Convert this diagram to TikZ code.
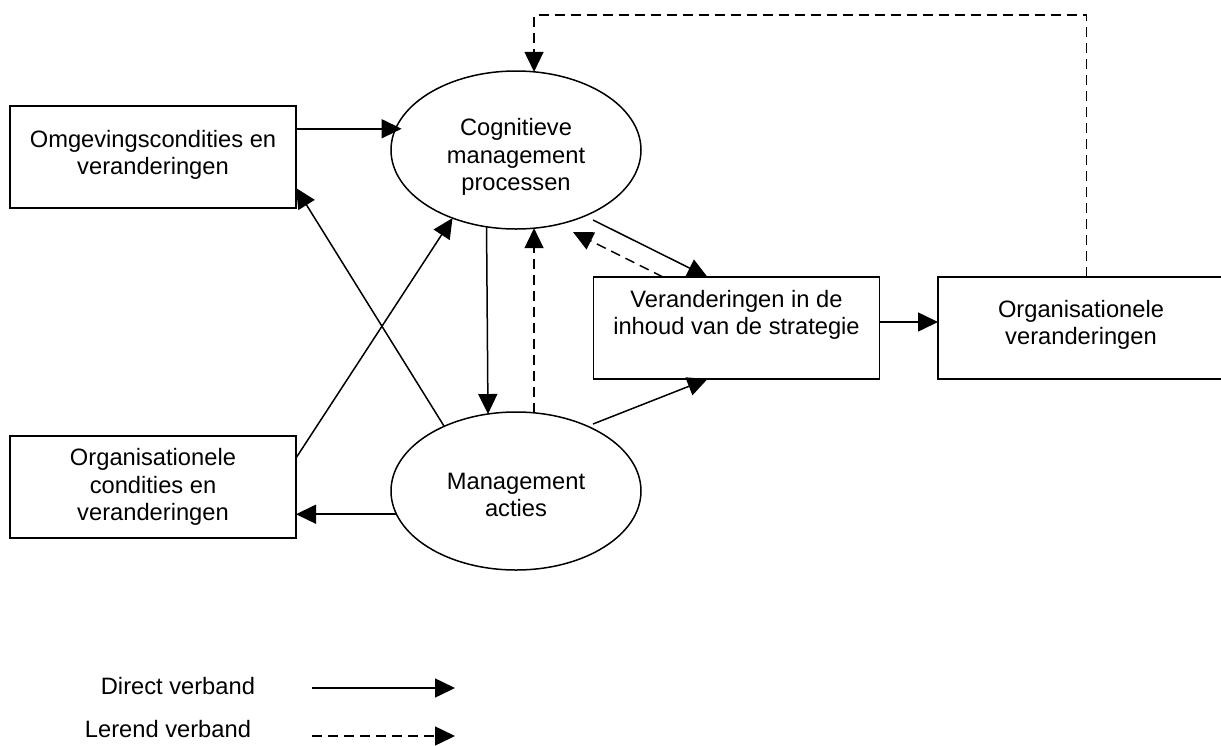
\documentclass[tikz,border=0pt]{standalone}
\usepackage{fontspec}
\setmainfont{Liberation Sans}
\usetikzlibrary{arrows.meta,shapes.geometric,calc}
\begin{document}
\begin{tikzpicture}[x=1pt,y=-1pt,
  every node/.style={inner sep=0pt, outer sep=0pt},
  box/.style={draw, line width=1.5pt, minimum width=286pt, minimum height=102pt},
  oval/.style={draw, ellipse, line width=1.5pt, minimum width=250pt, minimum height=158pt},
  txt/.style={align=center, font=\fontsize{23.7}{27.5}\selectfont},
  direct/.style={line width=1.5pt, -{Triangle[length=20pt,width=19pt]}},
  learn/.style={direct, dash pattern=on 10pt off 6pt}]
\useasboundingbox (0,0) rectangle (1221,745);

% boxes and ovals
\node[box]  (omg)  at (153,157)   {};
\node[box]  (orgc) at (153,487)   {};
\node[box]  (strat) at (736.5,328) {};
\node[box]  (orgv) at (1081,328)  {};
\node[oval] (cog)  at (516,150)   {};
\node[oval] (act)  at (516,491)   {};

% labels
\node[txt] (omgT)   at (153,155)   {Omgevingscondities en\\veranderingen};
\node[txt] (orgcT)  at (153,487)   {Organisationele\\condities en\\veranderingen};
\node[txt] (stratT) at (736.5,315) {Veranderingen in de\\inhoud van de strategie};
\node[txt] (orgvT)  at (1081,325)  {Organisationele\\veranderingen};
\node[txt] (cogT)   at (516,157)   {Cognitieve\\management\\processen};
\node[txt] (actT)   at (516,495)   {Management\\acties};

% direct links
\draw[direct, shorten >=-6pt] (cog.170.1 -| omg.east) -- (cog.170.1);
\draw[direct] (act.191.9) -- (act.191.9 -| orgc.east);
\draw[direct] ($(orgc.north east)+(0,22)$) -- (cog.227.9);
\draw[direct] (act.138.6) -- ($(omg.south east)+(0,-20)$);
\draw[direct] (cog.249.3) -- (act.110.4);
\draw[direct] ($(cog.center)+(77,70)$) -- ([xshift=-29pt]strat.north);
\draw[direct] ($(act.center)+(77,-67)$) -- ([xshift=-29pt]strat.south);
\draw[direct] ([yshift=6pt]strat.east) -- ([yshift=6pt]strat.east -| orgv.west);

% learning links
\draw[learn] (act.77.2) -- (cog.283.0);
\draw[learn] ([xshift=-73.5pt]strat.north) -- ($(cog.center)+(57,82)$);
\draw[learn] ([xshift=5.5pt]orgv.north) -- ++(0,-262) -| (cog.77.0);

% legend
\node[txt, anchor=east] (legD) at (255,686) {Direct verband};
\node[txt, anchor=east] (legL) at (251,729) {Lerend verband};
\coordinate (d0) at (312,688);
\coordinate (d1) at (455,688);
\coordinate (l0) at (312,736);
\coordinate (l1) at (455,736);
\draw[direct] (d0) -- (d1);
\draw[learn] (l0) -- (l1);
\end{tikzpicture}
\end{document}
